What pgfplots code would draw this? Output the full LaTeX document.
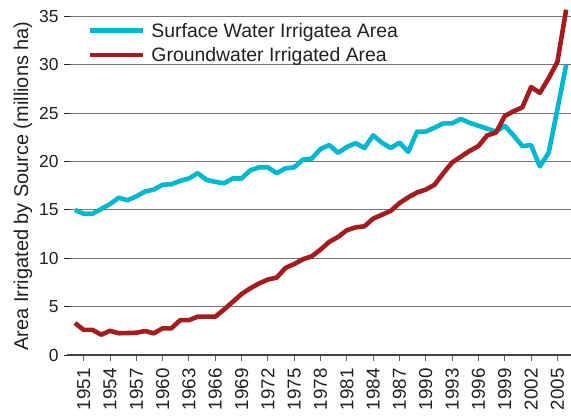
\documentclass[border=0pt]{standalone}
\usepackage{fontspec}
\setmainfont{Liberation Sans}
\usepackage{pgfplots}
\usepackage{pgfplotstable}
\pgfplotsset{compat=1.18}
\definecolor{cSurface}{RGB}{0,184,206}
\definecolor{cGround}{RGB}{164,28,32}
\definecolor{txt}{RGB}{35,31,32}
\definecolor{gridc}{RGB}{115,115,115}

\pgfplotstableread{
year val
1950 15.0
1951 14.6
1952 14.6
1953 15.1
1954 15.6
1955 16.25
1956 16.0
1957 16.4
1958 16.9
1959 17.1
1960 17.6
1961 17.65
1962 18.0
1963 18.25
1964 18.8
1965 18.1
1966 17.9
1967 17.75
1968 18.25
1969 18.25
1970 19.1
1971 19.4
1972 19.4
1973 18.8
1974 19.3
1975 19.4
1976 20.2
1977 20.3
1978 21.3
1979 21.7
1980 20.9
1981 21.5
1982 21.9
1983 21.4
1984 22.7
1985 21.95
1986 21.4
1987 21.95
1988 21.0
1989 23.1
1990 23.1
1991 23.5
1992 23.95
1993 23.95
1994 24.4
1995 24.0
1996 23.7
1997 23.4
1998 23.1
1999 23.7
2000 22.7
2001 21.6
2002 21.7
2003 19.5
2004 20.9
2005 25.4
2006 30.0
}\surfacetab

\pgfplotstableread{
year val
1950 3.3
1951 2.6
1952 2.6
1953 2.1
1954 2.5
1955 2.25
1956 2.27
1957 2.3
1958 2.48
1959 2.24
1960 2.76
1961 2.76
1962 3.6
1963 3.6
1964 3.96
1965 3.96
1966 3.96
1967 4.7
1968 5.5
1969 6.3
1970 6.9
1971 7.4
1972 7.8
1973 8.0
1974 9.0
1975 9.4
1976 9.9
1977 10.2
1978 10.9
1979 11.7
1980 12.2
1981 12.9
1982 13.2
1983 13.3
1984 14.1
1985 14.5
1986 14.9
1987 15.7
1988 16.3
1989 16.8
1990 17.1
1991 17.6
1992 18.8
1993 19.9
1994 20.5
1995 21.1
1996 21.6
1997 22.7
1998 23.0
1999 24.7
2000 25.2
2001 25.6
2002 27.7
2003 27.1
2004 28.6
2005 30.3
2006 35.7
}\groundtab

\begin{document}
\begin{tikzpicture}
\begin{axis}[
  name=ax, at={(0,0)}, anchor=south west,
  scale only axis, width=504bp, height=355bp,
  xmin=1949.1, xmax=2006.55, ymin=0, ymax=36.7,
  axis x line*=bottom, axis y line*=left,
  x axis line style={line width=2.5bp, color=txt!85},
  y axis line style={draw=none},
  ytick={0,5,...,35},
  xtick={1951,1954,...,2005},
  ymajorgrids,
  major grid style={gridc, line width=1bp},
  x tick style={color=txt!70, line width=0.9bp},
  y tick style={color=txt, line width=1bp},
  xtick align=outside, ytick align=center,
  major tick length=6bp,
  tick label style={font=\fontsize{17.5}{20}\selectfont, text=txt},
  /pgf/number format/assume math mode=true,
  /pgf/number format/1000 sep={},
  xticklabel style={rotate=90, anchor=east, font=\fontsize{18.8}{20}\selectfont},
  xticklabel shift=4bp,
  yticklabel style={xshift=-2bp},
  ylabel={Area Irrigated by Source (millions ha)},
  ylabel style={font=\fontsize{20}{22}\selectfont, text=txt, at={(ticklabel cs:0.476)}},
  legend style={draw=none, fill=none, at={(axis description cs:0.035,0.947)}, anchor=north west,
     font=\fontsize{19.5}{22}\selectfont, text=txt, row sep=4.5bp},
  legend cell align=left,
  legend image code/.code={\draw[#1] (0bp,0bp) -- (53bp,0bp); \path (57bp,0bp);},
  every axis plot/.append style={line width=4.6bp, line join=round},
]
\addplot[cSurface] table[x=year, y=val] {\surfacetab};
\addlegendentry{Surface Water Irrigatea Area}
\addplot[cGround] table[x=year, y=val] {\groundtab};
\addlegendentry{Groundwater Irrigated Area}
\end{axis}
\pgfresetboundingbox
\path (ax.south west) ++(-67bp,-61bp) rectangle ++(571bp,416bp);
\end{tikzpicture}
\end{document}
